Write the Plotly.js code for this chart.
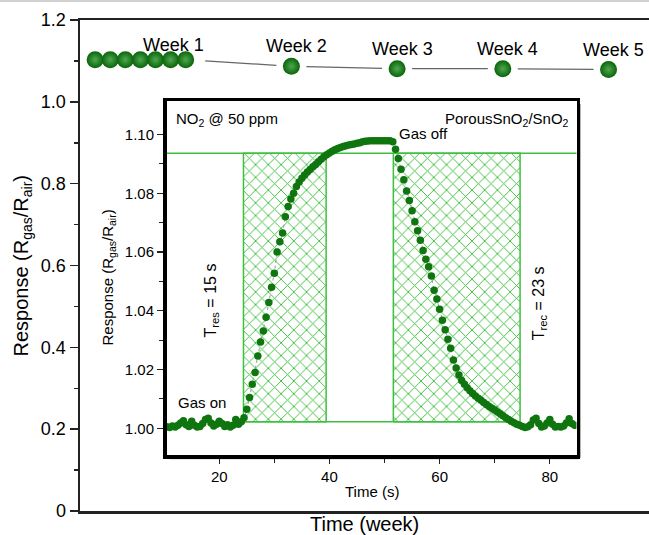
<!DOCTYPE html>
<html><head><meta charset="utf-8">
<script src="https://cdn.plot.ly/plotly-3.0.1.min.js"></script>
<style>html,body{margin:0;padding:0;background:#fff}#chart{width:649px;height:535px}</style>
</head><body><div id="chart"></div><script>
// ---------- main chart data (weekly stability) ----------
const weekX = [0.143,0.286,0.429,0.571,0.714,0.857,1,2,3,4,5];
const weekResp = [1.103,1.103,1.103,1.103,1.103,1.103,1.103,1.087,1.081,1.081,1.079];
const weekLabels = ['Week 1','Week 2','Week 3','Week 4','Week 5'];
const weekLabelIdx = [6,7,8,9,10];
const mainYTicks = [0,0.2,0.4,0.6,0.8,1.0,1.2];
const mainYTickText = ['0','0.2','0.4','0.6','0.8','1.0','1.2'];
const mainYMinor = [0.1,0.3,0.5,0.7,0.9,1.1];

// ---------- inset data (transient response, NO2 50 ppm) ----------
const timeS = [10.5,11,11.5,12,12.5,13,13.5,14,14.5,15,15.5,16,16.5,17,17.5,18,18.5,19,19.5,20,20.5,21,21.5,22,22.5,23,23.5,24,24.5,
25,25.5,26,26.5,27,27.5,28,28.5,29,29.5,30,30.5,31,31.5,32,32.5,33,33.5,34,34.5,35,35.5,36,36.5,37,37.5,38,38.5,39,39.5,
40,40.5,41,41.5,42,42.5,43,43.5,44,44.5,45,45.5,46,46.5,47,47.5,48,48.5,49,49.5,50,50.5,51,51.5,
52,52.5,53,53.5,54,54.5,55,55.5,56,56.5,57,57.5,58,58.5,59,59.5,60,60.5,61,61.5,62,62.5,63,63.5,64,64.5,
65,65.5,66,66.5,67,67.5,68,68.5,69,69.5,70,70.5,71,71.5,72,72.5,73,73.5,74,74.5,75,75.5,76,76.5,77,77.5,
78,78.5,79,79.5,80,80.5,81,81.5,82,82.5,83,83.5,84,84.5];
const respRatio = [1.0005,1.0003,1.0008,1.0004,1.0010,1.0018,1.0026,1.0012,1.0006,1.0024,1.0010,1.0004,1.0006,1.0016,1.0030,1.0034,1.0018,1.0008,1.0014,1.0024,1.0016,1.0006,1.0012,1.0004,1.0010,1.0030,1.0014,1.0022,1.0036,
1.0065,1.0105,1.0150,1.0190,1.0246,1.0294,1.0331,1.0378,1.0428,1.0480,1.0528,1.0600,1.0635,1.0665,1.0720,1.0755,1.0780,1.0800,1.0823,1.0838,1.0851,1.0862,1.0872,1.0881,1.0890,1.0898,1.0907,1.0916,1.0924,1.0931,
1.0937,1.0943,1.0948,1.0952,1.0956,1.0959,1.0962,1.0964,1.0966,1.0968,1.0970,1.0972,1.0975,1.0977,1.0978,1.0979,1.0979,1.0979,1.0979,1.0979,1.0979,1.0979,1.0979,1.0975,
1.0950,1.0918,1.0882,1.0846,1.0808,1.0775,1.0740,1.0703,1.0672,1.0640,1.0605,1.0575,1.0550,1.0518,1.0470,1.0440,1.0405,1.0368,1.0335,1.0303,1.0272,1.0232,1.0205,1.0181,1.0163,1.0150,
1.0138,1.0128,1.0118,1.0110,1.0102,1.0095,1.0088,1.0081,1.0074,1.0068,1.0062,1.0055,1.0049,1.0043,1.0036,1.0030,1.0024,1.0019,1.0014,1.0010,1.0006,1.0003,1.0005,1.0012,1.0028,1.0034,
1.0016,1.0004,1.0008,1.0018,1.0030,1.0014,1.0004,1.0006,1.0004,1.0008,1.0018,1.0032,1.0016,1.0010];
const resWindow = [24.4,39.4];   // T_res = 15 s
const recWindow = [51.6,74.6];   // T_rec = 23 s
const levelLow = 1.0022, levelHigh = 1.0936;
const insetXTicks = [20,40,60,80];
const insetXMinor = [30,50,70];
const insetYTicks = [1.00,1.02,1.04,1.06,1.08,1.10];
const insetYTickText = ['1.00','1.02','1.04','1.06','1.08','1.10'];
const insetYMinor = [1.01,1.03,1.05,1.07,1.09];

// ---------- geometry ----------
const W=649,H=535, M={l:80,r:0,t:20,b:24};
const pw=W-M.l-M.r, ph=H-M.t-M.b;
const fx=p=>(p-M.l)/pw, fy=p=>(H-M.b-p)/ph;
const insetDomX=[fx(166.5),fx(576.5)], insetDomY=[fy(455),fy(101)];
const insetW=(insetDomX[1]-insetDomX[0])*pw, insetH=(insetDomY[1]-insetDomY[0])*ph;
const xRangeMain=[0,5.383];
const FONT='Liberation Sans, Arial, Helvetica, sans-serif';
const HATCH='#3fbf3f';

// connector segments with gaps around the markers
const gap=15*(xRangeMain[1]-xRangeMain[0])/pw;
const segX=[],segY=[];
for(let i=6;i<weekX.length-1;i++){
  const x0=weekX[i],x1=weekX[i+1],y0=weekResp[i],y1=weekResp[i+1];
  const a=x0+gap*(i===6?1.3:1), b=x1-gap;
  const f=t=>y0+(y1-y0)*(t-x0)/(x1-x0);
  segX.push(a,b,null); segY.push(f(a),f(b),null);
}

function rectTrace(win){
  return {x:[win[0],win[1],win[1],win[0],win[0]], y:[levelLow,levelLow,levelHigh,levelHigh,levelLow],
    xaxis:'x2',yaxis:'y2',type:'scatter',mode:'lines',fill:'toself',
    line:{color:HATCH,width:1.5},fillcolor:'rgba(255,255,255,0)',
    fillpattern:{shape:'x',size:9,solidity:0.2,fgcolor:HATCH,bgcolor:'rgba(255,255,255,0)'},
    hoverinfo:'skip',showlegend:false};
}

const traces=[
  {x:segX,y:segY,type:'scatter',mode:'lines',line:{color:'#666',width:1.2},hoverinfo:'skip',showlegend:false},
  {x:weekX,y:weekResp,type:'scatter',mode:'markers',
   marker:{size:17,color:'#0a640a',gradient:{type:'radial',color:'#4fa84f'},line:{width:0}},showlegend:false},
  rectTrace(resWindow), rectTrace(recWindow),
  {x:timeS,y:respRatio,xaxis:'x2',yaxis:'y2',type:'scatter',mode:'lines+markers',
   line:{color:'#999',width:1,dash:'dot'},marker:{size:7.5,color:'#0f760f'},showlegend:false}
];

const annotations=[];
weekLabels.forEach((t,k)=>{
  const i=weekLabelIdx[k];
  annotations.push({x:weekX[i],y:weekResp[i],xref:'x',yref:'y',text:t,showarrow:false,
    xshift:k===0?-12:5,yshift:k===0?15:20,font:{size:18,family:FONT,color:'#000'}});
});
annotations.push(
  {text:'Time (week)',xref:'paper',yref:'paper',x:0.5,y:0,yanchor:'top',yshift:0,showarrow:false,font:{size:20,family:FONT,color:'#000'}},
  {text:'Response (R<sub>gas</sub>/R<sub>air</sub>)',xref:'paper',yref:'paper',x:0,y:0.5,xanchor:'center',yanchor:'middle',xshift:-58,textangle:-90,showarrow:false,font:{size:20,family:FONT,color:'#000'}},
  {text:'Response (R<sub>gas</sub>/R<sub>air</sub>)',xref:'x2 domain',yref:'y2 domain',x:0,y:0.5,xanchor:'center',yanchor:'middle',xshift:-59,textangle:-90,showarrow:false,font:{size:15,family:FONT,color:'#000'}},
  {text:'Time (s)',xref:'x2 domain',yref:'y2 domain',x:0.5,y:0,yanchor:'top',yshift:-26,showarrow:false,font:{size:15,family:FONT,color:'#000'}},
  {text:'NO<sub>2</sub> @ 50 ppm',xref:'x2 domain',yref:'y2 domain',x:0,y:1,xanchor:'left',yanchor:'top',xshift:7,yshift:-7,showarrow:false,font:{size:15,family:FONT,color:'#000'}},
  {text:'PorousSnO<sub>2</sub>/SnO<sub>2</sub>',xref:'x2 domain',yref:'y2 domain',x:1,y:1,xanchor:'right',yanchor:'top',xshift:-6,yshift:-7,showarrow:false,font:{size:15,family:FONT,color:'#000'}},
  {text:'Gas off',xref:'x2',yref:'y2',x:recWindow[0],y:levelHigh,xanchor:'left',yanchor:'bottom',xshift:4,yshift:9,showarrow:false,font:{size:15,family:FONT,color:'#000'}},
  {text:'Gas on',xref:'x2',yref:'y2',x:resWindow[0],y:levelLow,xanchor:'right',yanchor:'bottom',xshift:-15,yshift:9,showarrow:false,font:{size:15,family:FONT,color:'#000'}},
  {text:'T<sub>res</sub> = 15 s',xref:'x2',yref:'y2 domain',x:resWindow[0],y:0.438,xanchor:'center',yanchor:'middle',xshift:-32,textangle:-90,showarrow:false,font:{size:16,family:FONT,color:'#000'}},
  {text:'T<sub>rec</sub> = 23 s',xref:'x2',yref:'y2 domain',x:recWindow[1],y:0.429,xanchor:'center',yanchor:'middle',xshift:19,textangle:-90,showarrow:false,font:{size:16,family:FONT,color:'#000'}}
);

const sx=3/insetW, sy=3/insetH;
const shapes=[
  {type:'line',xref:'paper',yref:'paper',x0:-M.l/pw,x1:1,y0:1+19/ph,y1:1+19/ph,line:{color:'#d0d0d0',width:2}},
  {type:'line',xref:'x2 domain',yref:'y2 domain',x0:1+sx,x1:1+sx,y0:-sy,y1:1-sy,line:{color:'#9a9a9a',width:2.5},layer:'below'},
  {type:'line',xref:'x2 domain',yref:'y2 domain',x0:sx,x1:1+sx,y0:-sy,y1:-sy,line:{color:'#9a9a9a',width:2.5},layer:'below'},
  {type:'line',xref:'x2 domain',yref:'y2',x0:0,x1:1,y0:levelHigh,y1:levelHigh,line:{color:HATCH,width:1.5},layer:'below'},
  {type:'line',xref:'x2',yref:'y2',x0:resWindow[0],x1:recWindow[1],y0:levelLow,y1:levelLow,line:{color:HATCH,width:1.5},layer:'below'}
];

const layout={
  width:W,height:H,margin:M,paper_bgcolor:'#fff',plot_bgcolor:'rgba(0,0,0,0)',
  font:{family:FONT,color:'#000'},showlegend:false,
  xaxis:{domain:[0,1],range:xRangeMain,showline:true,mirror:true,linecolor:'#222',linewidth:2.5,
    showticklabels:false,ticks:'',showgrid:false,zeroline:false,fixedrange:true},
  yaxis:{domain:[0,1],range:[0,1.2],tickmode:'array',tickvals:mainYTicks,ticktext:mainYTickText,
    ticks:'outside',ticklen:8,tickwidth:1.5,tickcolor:'#222',showline:true,linecolor:'#222',linewidth:2.5,
    showgrid:false,zeroline:false,tickfont:{size:18,family:FONT},
    minor:{tickmode:'array',tickvals:mainYMinor,ticks:'outside',ticklen:4,tickwidth:1.5,tickcolor:'#222',showgrid:false}},
  xaxis2:{domain:insetDomX,anchor:'y2',range:[10.43,84.84],tickmode:'array',tickvals:insetXTicks,
    ticks:'outside',ticklen:5,tickwidth:1.2,tickcolor:'#222',showline:true,mirror:true,linecolor:'#000',linewidth:3.5,
    showgrid:false,zeroline:false,tickfont:{size:15,family:FONT},
    minor:{tickmode:'array',tickvals:insetXMinor,ticks:'outside',ticklen:4,tickwidth:1.2,tickcolor:'#222',showgrid:false}},
  yaxis2:{domain:insetDomY,anchor:'x2',range:[0.9909,1.1114],tickmode:'array',tickvals:insetYTicks,ticktext:insetYTickText,
    ticks:'outside',ticklen:6,tickwidth:1.2,tickcolor:'#222',showline:true,mirror:true,linecolor:'#000',linewidth:3.5,
    showgrid:false,zeroline:false,tickfont:{size:15,family:FONT},
    minor:{tickmode:'array',tickvals:insetYMinor,ticks:'outside',ticklen:4,tickwidth:1.2,tickcolor:'#222',showgrid:false}},
  annotations:annotations,shapes:shapes
};
Plotly.newPlot('chart',traces,layout,{displayModeBar:false,staticPlot:true});
</script></body></html>
